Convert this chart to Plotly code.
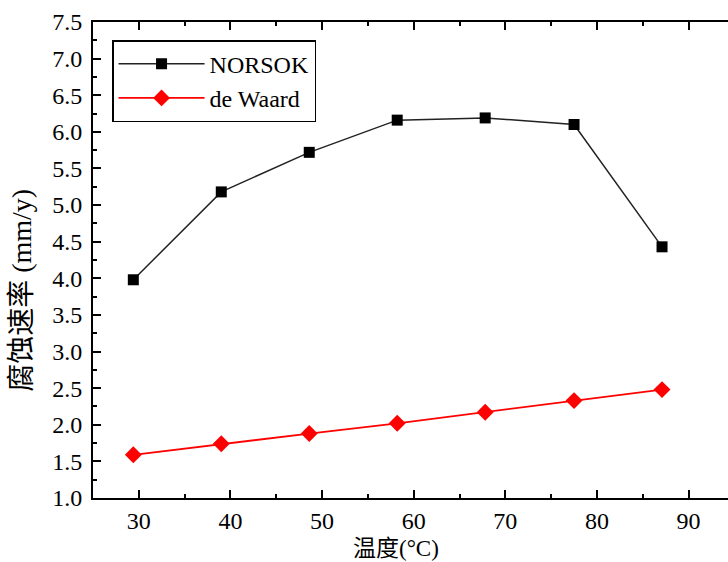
import plotly.graph_objects as go

temps = [29.4, 39.0, 48.6, 58.2, 67.8, 77.5, 87.1]
norsok = [3.98, 5.18, 5.72, 6.16, 6.19, 6.10, 4.43]
de_waard = [1.59, 1.74, 1.88, 2.02, 2.17, 2.33, 2.48]
x_ticks = [30, 40, 50, 60, 70, 80, 90]
y_ticks = [1.0, 1.5, 2.0, 2.5, 3.0, 3.5, 4.0, 4.5, 5.0, 5.5, 6.0, 6.5, 7.0, 7.5]

FONT = "Liberation Serif, Times New Roman, Noto Sans CJK SC, serif"

fig = go.Figure()
fig.add_trace(go.Scatter(
    x=temps, y=norsok, mode="lines+markers", name="NORSOK",
    line=dict(color="#222222", width=1.5),
    marker=dict(symbol="square", size=11, color="black"),
))
fig.add_trace(go.Scatter(
    x=temps, y=de_waard, mode="lines+markers", name="de Waard",
    line=dict(color="#ff0000", width=1.8),
    marker=dict(symbol="diamond", size=13, color="#ff0000"),
))

tickfont = dict(family=FONT, size=24, color="black")

fig.update_xaxes(
    range=[25, 94.3], tickvals=x_ticks, ticktext=[str(v) for v in x_ticks],
    showline=True, linecolor="black", linewidth=2, mirror="allticks",
    ticks="inside", ticklen=8, tickwidth=1.5, tickcolor="black",
    minor=dict(ticks="inside", ticklen=4, tickwidth=1.5, tickcolor="black", dtick=5, tick0=25),
    showgrid=False, zeroline=False, tickfont=tickfont, ticklabelstandoff=0,
)
fig.update_yaxes(
    range=[1.0, 7.5], tickvals=y_ticks, ticktext=[f"{v:.1f}" for v in y_ticks],
    showline=True, linecolor="black", linewidth=2, mirror=False,
    ticks="inside", ticklen=8, tickwidth=1.5, tickcolor="black",
    minor=dict(ticks="inside", ticklen=4, tickwidth=1.5, tickcolor="black", dtick=0.25, tick0=1.0),
    showgrid=False, zeroline=False, tickfont=tickfont, ticklabelstandoff=4,
)

fig.update_layout(
    width=728, height=562,
    margin=dict(l=93, r=0, t=22, b=64),
    paper_bgcolor="white", plot_bgcolor="white",
    showlegend=True,
    yaxis2=dict(
        overlaying="y", side="right", anchor="x", range=[1.0, 7.5],
        tickvals=y_ticks, showticklabels=False, showline=False,
        ticks="inside", ticklen=3, tickwidth=1.5, tickcolor="black",
        showgrid=False, zeroline=False,
    ),
    legend=dict(
        x=0.03, y=0.962, xanchor="left", yanchor="top",
        bordercolor="black", borderwidth=1.5, bgcolor="white",
        font=dict(family=FONT, size=24, color="black"),
        itemwidth=86,
    ),
    annotations=[
        dict(text="温度(°C)", xref="paper", yref="paper", x=0.477, y=-0.1345,
             xanchor="center", yanchor="bottom", showarrow=False, borderpad=0,
             font=dict(family=FONT, size=23, color="black")),
        dict(text="腐蚀速率 (mm/y)", xref="paper", yref="paper", x=-0.112, y=0.437,
             xanchor="center", yanchor="middle", textangle=-90, showarrow=False,
             font=dict(family=FONT, size=28, color="black")),
    ],
)

fig.write_html("out.html")
